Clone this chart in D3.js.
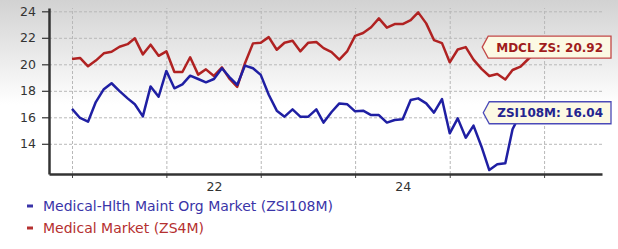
<!DOCTYPE html>
<html>
<head>
<meta charset="utf-8">
<script src="https://cdn.jsdelivr.net/npm/d3@7"></script>
<style>
	body { margin: 0; background: #fff; }
	text { font-family: "DejaVu Sans", Verdana, sans-serif; }
</style>
</head>
<body>
<div id="chart"></div>
<script>
var months = [
	"2020-07","2020-08","2020-09","2020-10","2020-11","2020-12",
	"2021-01","2021-02","2021-03","2021-04","2021-05","2021-06",
	"2021-07","2021-08","2021-09","2021-10","2021-11","2021-12",
	"2022-01","2022-02","2022-03","2022-04","2022-05","2022-06",
	"2022-07","2022-08","2022-09","2022-10","2022-11","2022-12",
	"2023-01","2023-02","2023-03","2023-04","2023-05","2023-06",
	"2023-07","2023-08","2023-09","2023-10","2023-11","2023-12",
	"2024-01","2024-02","2024-03","2024-04","2024-05","2024-06",
	"2024-07","2024-08","2024-09","2024-10","2024-11","2024-12",
	"2025-01","2025-02","2025-03","2025-04","2025-05","2025-06"
];

// Medical-Hlth Maint Org Market (ZSI108M)
var hmoValues = [
	16.63, 15.95, 15.67, 17.15, 18.12, 18.57, 17.98, 17.43, 16.98, 16.07,
	18.33, 17.55, 19.50, 18.19, 18.49, 19.14, 18.89, 18.64, 18.89, 19.70,
	19.06, 18.44, 19.90, 19.70, 19.20, 17.70, 16.50, 16.05, 16.60, 16.05,
	16.05, 16.60, 15.60, 16.40, 17.05, 16.98, 16.45, 16.50, 16.17, 16.17,
	15.60, 15.80, 15.85, 17.30, 17.43, 17.05, 16.35, 17.38, 14.79, 15.92,
	14.46, 15.37, 13.78, 12.02, 12.45, 12.53, 15.10, 16.30, 16.20, 16.04
];

// Medical Market (ZS4M)
var medicalValues = [
	20.40, 20.48, 19.85, 20.28, 20.83, 20.95, 21.33, 21.52, 21.96, 20.75,
	21.48, 20.64, 20.98, 19.42, 19.42, 20.53, 19.22, 19.62, 19.12, 19.77,
	18.94, 18.30, 20.08, 21.58, 21.63, 22.05, 21.10, 21.63, 21.78, 20.98,
	21.63, 21.68, 21.22, 20.92, 20.35, 21.00, 22.15, 22.36, 22.80, 23.47,
	22.77, 23.04, 23.04, 23.34, 23.92, 23.09, 21.83, 21.60, 20.15, 21.12,
	21.30, 20.35, 19.65, 19.12, 19.27, 18.85, 19.57, 19.82, 20.40, 20.92
];

var yTicks = [14, 16, 18, 20, 22, 24];
var gridDates = ["2020-07","2021-07","2022-07","2023-07","2024-07","2025-07"];
var xLabelDates = ["2022-01", "2024-01"];

var seriesNames = ["Medical-Hlth Maint Org Market (ZSI108M)", "Medical Market (ZS4M)"];
var seriesTags = ["ZSI108M", "MDCL ZS"];

var width = 618,
	height = 249,
	plot = { left: 49, right: 602, top: 8, bottom: 174 };

var lineColors = ["#1f1fa3", "#b02222"],
	legendColors = ["#3a34a8", "#b53030"],
	tagText = ["#24248f", "#a01c1c"],
	tagStroke = ["#4a4ab8", "#c24848"];

var parseMonth = d3.timeParse("%Y-%m");

var svgContainer = d3.select("#chart")
	.append("svg")
	.attr("width", width)
	.attr("height", height);

var x = d3.scaleTime()
	.domain([new Date(2020, 3, 3), new Date(2026, 1, 10)])
	.range([plot.left, plot.right]);

var y = d3.scaleLinear()
	.domain([11.72, 24.25])
	.range([plot.bottom, plot.top]);

// background fade
var defs = svgContainer.append("defs");
var grad = defs.append("linearGradient")
	.attr("id", "bg")
	.attr("x1", 0).attr("y1", 0).attr("x2", 0).attr("y2", 1);
grad.append("stop").attr("offset", "0%").attr("stop-color", "#d2d2d2");
grad.append("stop").attr("offset", "42%").attr("stop-color", "#ffffff");
grad.append("stop").attr("offset", "100%").attr("stop-color", "#ffffff");

svgContainer.append("rect")
	.attr("width", width)
	.attr("height", height)
	.attr("fill", "url(#bg)");

// grid
svgContainer.append("g")
	.attr("transform", "translate(" + plot.left + ",0)")
	.call(d3.axisLeft(y).tickValues(yTicks).tickSize(-(plot.right - plot.left)).tickFormat(""))
	.call(g => g.select(".domain").remove())
	.call(g => g.selectAll("line")
		.attr("stroke", "#b8b8b8")
		.attr("stroke-dasharray", "3,2"));

svgContainer.append("g")
	.attr("transform", "translate(0," + plot.bottom + ")")
	.call(d3.axisBottom(x).tickValues(gridDates.map(parseMonth)).tickSize(-(plot.bottom - plot.top)).tickFormat(""))
	.call(g => g.select(".domain").remove())
	.call(g => g.selectAll("line")
		.attr("stroke", "#b8b8b8")
		.attr("stroke-dasharray", "3,2"));

// small ticks under the x axis
svgContainer.append("g")
	.attr("transform", "translate(0," + plot.bottom + ")")
	.call(d3.axisBottom(x).tickValues(gridDates.map(parseMonth)).tickSize(4).tickFormat(""))
	.call(g => g.select(".domain").remove())
	.call(g => g.selectAll("line").attr("stroke", "#444"));

// y axis
var yAxisGroup = svgContainer.append("g")
	.attr("transform", "translate(" + plot.left + ",0)")
	.call(d3.axisLeft(y).tickValues(yTicks).tickSize(7).tickPadding(6).tickSizeOuter(0));
yAxisGroup.select(".domain").attr("stroke", "#333").attr("stroke-width", 2.5);
yAxisGroup.selectAll(".tick line").attr("stroke", "#333").attr("stroke-width", 1.2);
yAxisGroup.selectAll("text")
	.attr("fill", "#333")
	.style("font-size", "12.5px")
	.style("font-family", "'DejaVu Sans', Verdana, sans-serif");

// x axis
var xAxisGroup = svgContainer.append("g")
	.attr("transform", "translate(0," + plot.bottom + ")")
	.call(d3.axisBottom(x).tickValues(xLabelDates.map(parseMonth)).tickSize(0).tickPadding(8)
		.tickFormat(d3.timeFormat("%y")).tickSizeOuter(0));
xAxisGroup.select(".domain").attr("stroke", "#333").attr("stroke-width", 2.5);
xAxisGroup.selectAll("text")
	.attr("fill", "#333")
	.style("font-size", "12.5px")
	.style("font-family", "'DejaVu Sans', Verdana, sans-serif");

// lines
var line = d3.line()
	.x(function(d) { return x(d.date); })
	.y(function(d) { return y(d.value); });

var series = [hmoValues, medicalValues].map(function(values) {
	return values.map(function(v, i) {
		return { date: parseMonth(months[i]), value: v };
	});
});

[1, 0].forEach(function(k) {
	svgContainer.append("path")
		.datum(series[k])
		.attr("fill", "none")
		.attr("stroke", lineColors[k])
		.attr("stroke-width", 2.5)
		.attr("stroke-linejoin", "round")
		.attr("d", line);
});

// end tags
var tagOffsets = [-4, -5];
[1, 0].forEach(function(k) {
	var last = series[k][series[k].length - 1];
	var cy = y(last.value) + tagOffsets[k];
	var label = seriesTags[k] + ": " + last.value.toFixed(2);
	var g = svgContainer.append("g");
	var path = g.append("path");
	var t = g.append("text")
		.attr("y", cy + 4.5)
		.attr("fill", tagText[k])
		.style("font-size", "12px")
		.style("font-weight", "bold")
		.text(label);
	var tw = t.node().getComputedTextLength();
	var right = plot.right + 9,
		left = right - tw - 16,
		h = 11;
	t.attr("x", left + 8);
	path.attr("d", "M" + (left - 6) + "," + cy +
			"L" + left + "," + (cy - h) +
			"L" + right + "," + (cy - h) +
			"L" + right + "," + (cy + h) +
			"L" + left + "," + (cy + h) + "Z")
		.attr("fill", "#fcf9e3")
		.attr("stroke", tagStroke[k])
		.attr("stroke-width", 1.3);
});

// legend
seriesNames.forEach(function(name, k) {
	var ly = 206 + k * 22;
	svgContainer.append("rect")
		.attr("x", 27)
		.attr("y", ly - 1.5)
		.attr("width", 6)
		.attr("height", 3)
		.attr("fill", legendColors[k]);
	svgContainer.append("text")
		.attr("x", 43)
		.attr("y", ly + 5)
		.attr("fill", legendColors[k])
		.style("font-size", "14px")
		.text(name);
});
</script>
</body>
</html>
